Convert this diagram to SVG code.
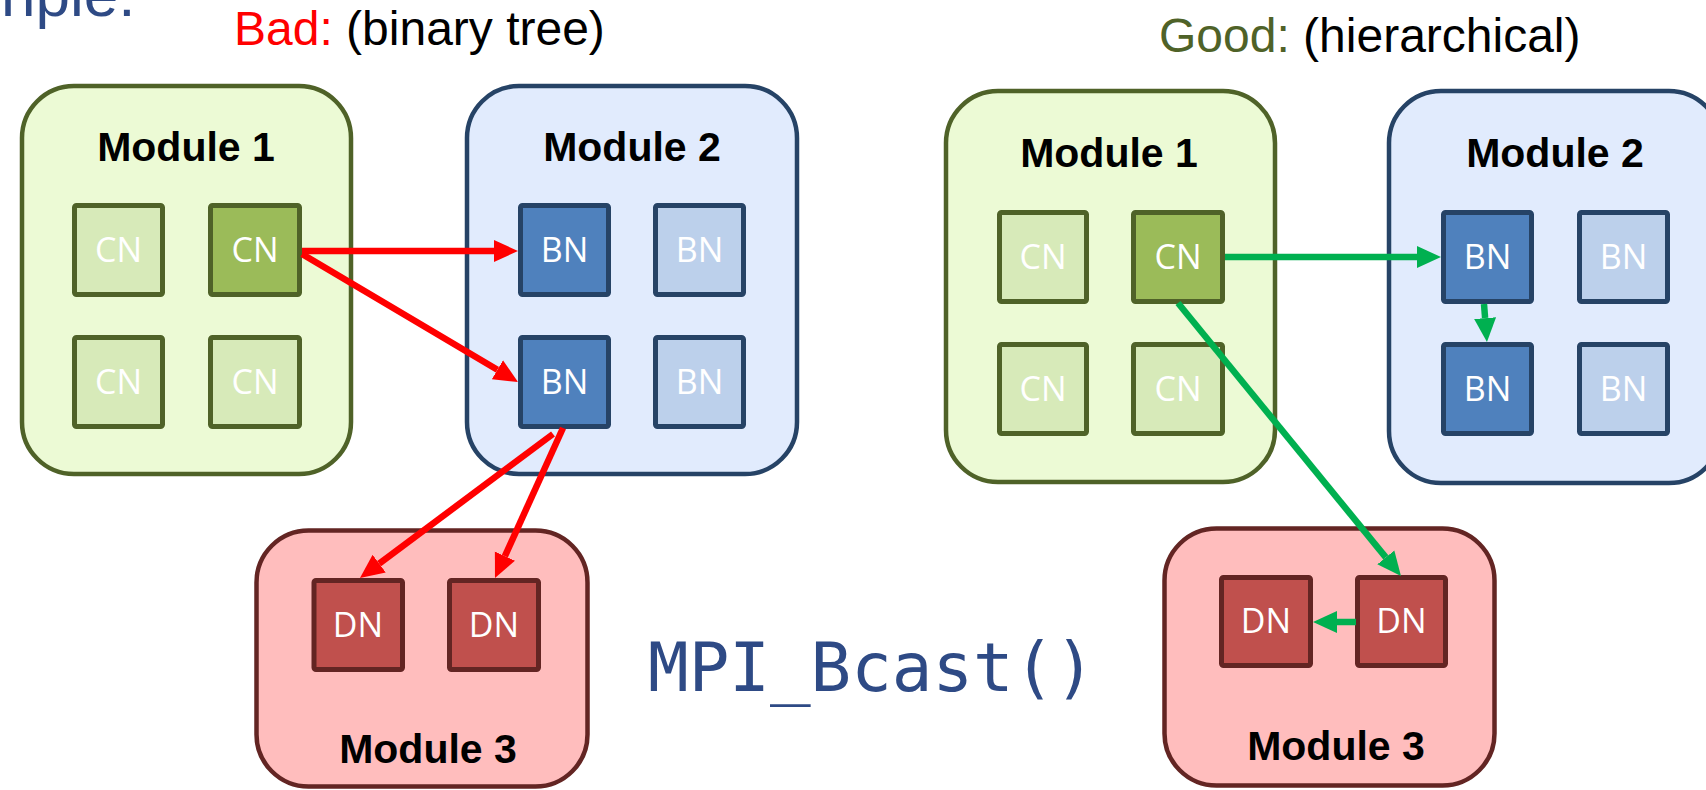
<svg xmlns="http://www.w3.org/2000/svg" width="1706" height="790" viewBox="0 0 1706 790">
<defs>
<style>
.title{font-family:"Liberation Sans",Arial,sans-serif;font-size:48px;fill:#000}
.mod{font-family:"Liberation Sans",Arial,sans-serif;font-size:41px;font-weight:bold;fill:#000;text-anchor:middle}
.nt{font-family:"Open Sans","Noto Sans",sans-serif;font-size:34px;fill:#fff;text-anchor:middle}
.m1{fill:#ECFAD5;stroke:#4F6228;stroke-width:4.5}
.m2{fill:#E1EBFD;stroke:#264366;stroke-width:4.5}
.m3{fill:#FFBDBD;stroke:#632523;stroke-width:4.5}
.cn{fill:#D7EAB9;stroke:#4F6228;stroke-width:5}
.cnd{fill:#9BBB59;stroke:#4F6228;stroke-width:5}
.bn{fill:#BCD0EB;stroke:#264366;stroke-width:5}
.bnd{fill:#4F81BD;stroke:#264366;stroke-width:5}
.dn{fill:#C0504D;stroke:#632523;stroke-width:5}
.red{stroke:#FF0000;stroke-width:6.5;fill:none}
.grn{stroke:#00B050;stroke-width:6.5;fill:none}
</style>
<marker id="ar" markerUnits="userSpaceOnUse" markerWidth="26" markerHeight="24" viewBox="0 -12 26 24" refX="0" refY="0" orient="auto">
<path d="M0,-11 L24,0 L0,11 z" fill="#FF0000"/>
</marker>
<marker id="ag" markerUnits="userSpaceOnUse" markerWidth="26" markerHeight="24" viewBox="0 -12 26 24" refX="0" refY="0" orient="auto">
<path d="M0,-11 L24,0 L0,11 z" fill="#00B050"/>
</marker>
</defs>
<rect width="1706" height="790" fill="#fff"/>

<g id="headings">
<text x="1" y="16" font-family="Liberation Sans,Arial,sans-serif" font-size="62" fill="#2E4A85">nple:</text>
<text class="title" x="234" y="45"><tspan fill="#FF0000">Bad:</tspan> (binary tree)</text>
<text class="title" x="1159" y="52"><tspan fill="#4F6228">Good:</tspan> (hierarchical)</text>
<text x="648" y="691" font-family="DejaVu Sans Mono,monospace" font-size="67.5" fill="#2E4A85">MPI_Bcast()</text>
</g>

<!-- LEFT: binary tree -->
<g id="bad-module1">
<rect class="m1" x="22" y="86" width="329" height="388" rx="52"/>
<text class="mod" x="186" y="161">Module 1</text>
</g>
<g id="bad-cn1"><rect class="cn" x="74.5" y="205.5" width="88" height="89" rx="2"/><text class="nt" x="118.5" y="262">CN</text></g>
<g id="bad-cn2"><rect class="cnd" x="210.5" y="205.5" width="89" height="89" rx="2"/><text class="nt" x="255" y="262">CN</text></g>
<g id="bad-cn3"><rect class="cn" x="74.5" y="337.5" width="88" height="89" rx="2"/><text class="nt" x="118.5" y="394">CN</text></g>
<g id="bad-cn4"><rect class="cn" x="210.5" y="337.5" width="89" height="89" rx="2"/><text class="nt" x="255" y="394">CN</text></g>

<g id="bad-module2">
<rect class="m2" x="467" y="86" width="330" height="388" rx="52"/>
<text class="mod" x="632" y="161">Module 2</text>
</g>
<g id="bad-bn1"><rect class="bnd" x="520.5" y="205.5" width="88" height="89" rx="2"/><text class="nt" x="564.5" y="262">BN</text></g>
<g id="bad-bn2"><rect class="bn" x="655.5" y="205.5" width="88" height="89" rx="2"/><text class="nt" x="699.5" y="262">BN</text></g>
<g id="bad-bn3"><rect class="bnd" x="520.5" y="337.5" width="88" height="89" rx="2"/><text class="nt" x="564.5" y="394">BN</text></g>
<g id="bad-bn4"><rect class="bn" x="655.5" y="337.5" width="88" height="89" rx="2"/><text class="nt" x="699.5" y="394">BN</text></g>

<g id="bad-module3">
<rect class="m3" x="256.5" y="530.5" width="331" height="256" rx="52"/>
<text class="mod" x="428" y="763">Module 3</text>
</g>
<g id="bad-dn1"><rect class="dn" x="314" y="580.5" width="88.5" height="89" rx="2"/><text class="nt" x="358" y="637">DN</text></g>
<g id="bad-dn2"><rect class="dn" x="449.5" y="580.5" width="89" height="89" rx="2"/><text class="nt" x="494" y="637">DN</text></g>

<!-- RIGHT: hierarchical -->
<g id="good-module1">
<rect class="m1" x="946" y="91" width="329" height="391" rx="52"/>
<text class="mod" x="1109" y="167">Module 1</text>
</g>
<g id="good-cn1"><rect class="cn" x="999.5" y="212.5" width="87" height="89" rx="2"/><text class="nt" x="1043" y="269">CN</text></g>
<g id="good-cn2"><rect class="cnd" x="1133.5" y="212.5" width="89" height="89" rx="2"/><text class="nt" x="1178" y="269">CN</text></g>
<g id="good-cn3"><rect class="cn" x="999.5" y="344.5" width="87" height="89" rx="2"/><text class="nt" x="1043" y="401">CN</text></g>
<g id="good-cn4"><rect class="cn" x="1133.5" y="344.5" width="89" height="89" rx="2"/><text class="nt" x="1178" y="401">CN</text></g>

<g id="good-module2">
<rect class="m2" x="1389" y="91" width="332" height="392" rx="52"/>
<text class="mod" x="1555" y="167">Module 2</text>
</g>
<g id="good-bn1"><rect class="bnd" x="1443.5" y="212.5" width="88" height="89" rx="2"/><text class="nt" x="1487.5" y="269">BN</text></g>
<g id="good-bn2"><rect class="bn" x="1579.5" y="212.5" width="88" height="89" rx="2"/><text class="nt" x="1623.5" y="269">BN</text></g>
<g id="good-bn3"><rect class="bnd" x="1443.5" y="344.5" width="88" height="89" rx="2"/><text class="nt" x="1487.5" y="401">BN</text></g>
<g id="good-bn4"><rect class="bn" x="1579.5" y="344.5" width="88" height="89" rx="2"/><text class="nt" x="1623.5" y="401">BN</text></g>

<g id="good-module3">
<rect class="m3" x="1164.5" y="528.5" width="330" height="257" rx="52"/>
<text class="mod" x="1336" y="760">Module 3</text>
</g>
<g id="good-dn1"><rect class="dn" x="1221.5" y="577.5" width="89" height="88" rx="2"/><text class="nt" x="1266" y="633">DN</text></g>
<g id="good-dn2"><rect class="dn" x="1357.5" y="577.5" width="88" height="88" rx="2"/><text class="nt" x="1401.5" y="633">DN</text></g>

<g id="connectors">
<line class="red" x1="302" y1="251" x2="494" y2="251" marker-end="url(#ar)"/>
<line class="red" x1="302" y1="254" x2="497.4" y2="369.8" marker-end="url(#ar)"/>
<line class="red" x1="553" y1="434" x2="379.2" y2="563.6" marker-end="url(#ar)"/>
<line class="red" x1="563" y1="428" x2="504.9" y2="556.1" marker-end="url(#ar)"/>
<line class="grn" x1="1225" y1="257" x2="1417" y2="257" marker-end="url(#ag)"/>
<line class="grn" x1="1484" y1="304" x2="1485.1" y2="318.1" marker-end="url(#ag)"/>
<line class="grn" x1="1178" y1="303" x2="1385.8" y2="557.4" marker-end="url(#ag)"/>
<line class="grn" x1="1356" y1="622" x2="1337" y2="622" marker-end="url(#ag)"/>
</g>
</svg>
